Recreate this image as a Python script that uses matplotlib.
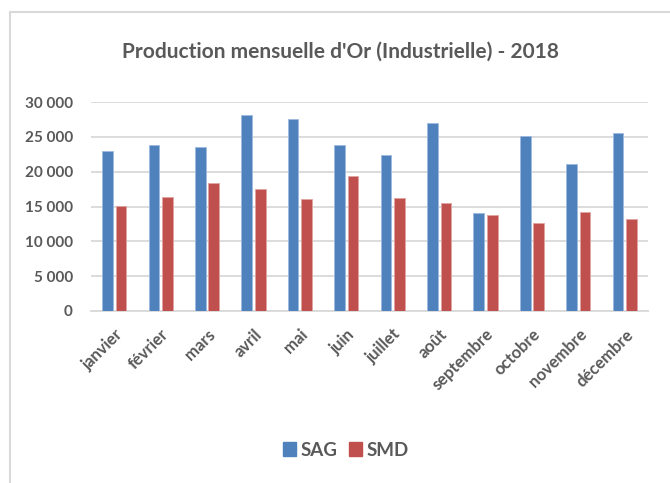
import matplotlib
matplotlib.use("Agg")
import matplotlib.pyplot as plt
import matplotlib.transforms as mtrans
import numpy as np
from matplotlib.lines import Line2D
from matplotlib.patches import Patch

months = ["janvier", "février", "mars", "avril", "mai", "juin", "juillet",
          "août", "septembre", "octobre", "novembre", "décembre"]
sag = [22900, 23760, 23520, 28080, 27560, 23860, 22370, 27030, 14070, 25160, 21120, 25540]
smd = [15070, 16320, 18340, 17520, 16130, 19350, 16230, 15460, 13830, 12580, 14210, 13200]
yticks = [0, 5000, 10000, 15000, 20000, 25000, 30000]
ytick_labels = ["0", "5 000", "10 000", "15 000", "20 000", "25 000", "30 000"]

plt.rcParams['font.family'] = ['Lato', 'DejaVu Sans']
txt = "#595959"

fig = plt.figure(figsize=(6.7, 4.83), dpi=100)
ax = fig.add_axes([91/670, 1-311/483, (648-91)/670, (311-102)/483])

x = np.arange(len(months))
w = 0.23
off = 0.145
ax.bar(x - off, sag, w, color="#4f81bd", edgecolor="#9dbbe0", linewidth=0.6, label="SAG", zorder=3)
ax.bar(x + off, smd, w, color="#c0504d", edgecolor="#e0a3a1", linewidth=0.6, label="SMD", zorder=3)

ax.set_xlim(-0.5, len(months) - 0.5)
ax.set_ylim(0, 30000)
ax.set_yticks(yticks)
ax.set_yticklabels(ytick_labels, fontsize=11, fontweight="bold", color=txt)
ax.set_xticks(x)
ax.set_xticklabels(months, rotation=45, ha="right", rotation_mode="anchor",
                   fontsize=12, fontweight="bold", color=txt)
shift = mtrans.ScaledTranslation(-5/72, -1/72, fig.dpi_scale_trans)
for lab in ax.get_xticklabels():
    lab.set_transform(lab.get_transform() + shift)
ax.tick_params(axis="both", length=0)
ax.tick_params(axis="y", pad=13)
ax.tick_params(axis="x", pad=11)
ax.grid(axis="y", color="#d9d9d9", linewidth=1.3, zorder=0)
for s in ["top", "right", "left"]:
    ax.spines[s].set_visible(False)
ax.spines["bottom"].set_color("#d9d9d9")
ax.spines["bottom"].set_linewidth(1.3)

fig.text(341/670, 1-52/483, "Production mensuelle d'Or (Industrielle) - 2018",
         ha="center", va="center", fontsize=15, fontweight="bold", color=txt)

handles = [Patch(color="#4f81bd", label="SAG"), Patch(color="#c0504d", label="SMD")]
fig.legend(handles=handles, loc="center", bbox_to_anchor=(346/670, 1-450/483), ncol=2,
           frameon=False, prop={"size": 13.5, "weight": "bold"}, labelcolor=txt,
           handlelength=0.7, handleheight=0.7, handletextpad=0.25, columnspacing=0.6)

fig.add_artist(Line2D([9.5/670, 9.5/670], [0, 1-12/483], transform=fig.transFigure,
                      color="#d9d9d9", linewidth=1.5))
fig.add_artist(Line2D([9.5/670, 1], [1-12/483, 1-12/483], transform=fig.transFigure,
                      color="#d9d9d9", linewidth=1.5))

fig.savefig("out.png", dpi=100)
